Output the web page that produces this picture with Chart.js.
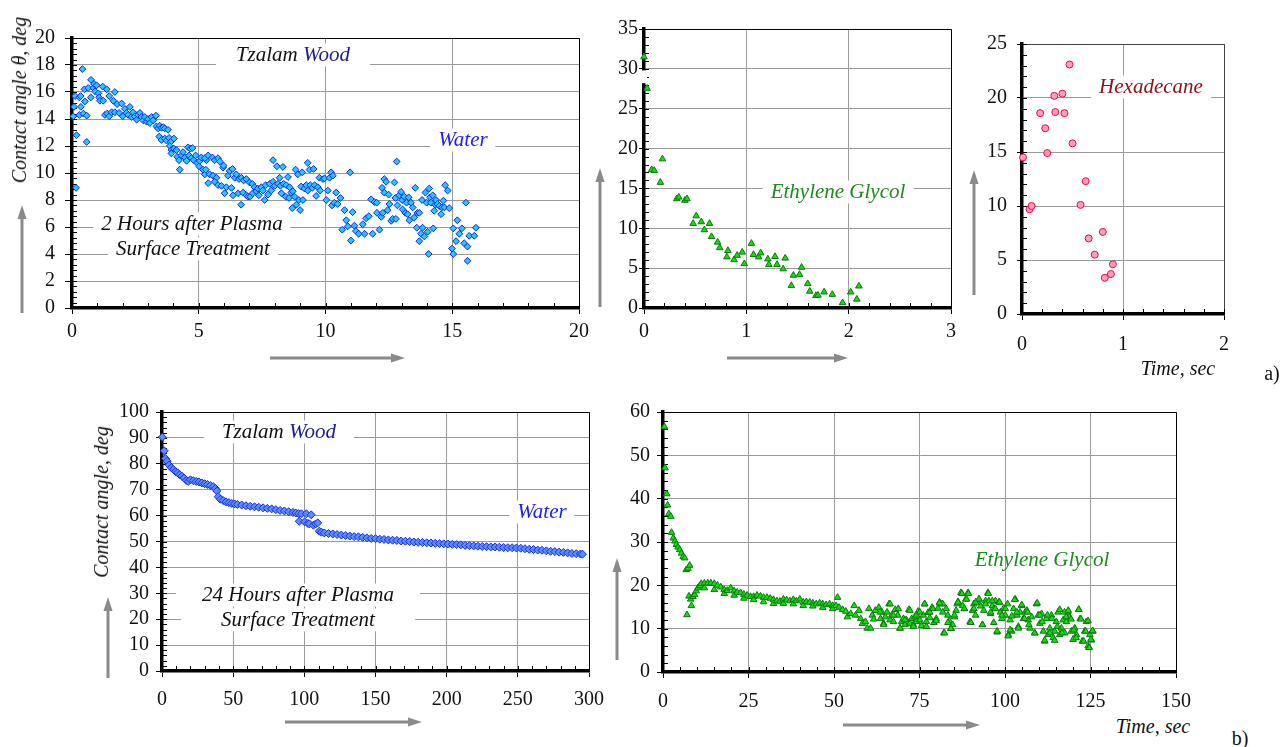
<!DOCTYPE html>
<html>
<head>
<meta charset="utf-8">
<script src="https://cdn.jsdelivr.net/npm/chart.js@4.4.1/dist/chart.umd.min.js"></script>
<style>
  body { margin: 0; width: 1283px; height: 747px; background: #fff; position: relative; overflow: hidden;
         font-family: "Liberation Serif", "Times New Roman", serif; }
  canvas { position: absolute; }
  .lbl { position: absolute; transform: translate(-50%, -50%); white-space: nowrap; font-size: 21px;
         font-style: italic; color: #111; line-height: 1.1; z-index: 2; }
  .box { background: #fff; padding: 0 8px; }
  .rot { transform: translate(-50%, -50%) rotate(-90deg); font-size: 20px; }
  .plain { font-style: normal; font-size: 20px; }
  svg { position: absolute; left: 0; top: 0; z-index: 3; }
</style>
</head>
<body>
<canvas id="chartA"></canvas>
<canvas id="chartB"></canvas>
<canvas id="chartC"></canvas>
<canvas id="chartD"></canvas>
<canvas id="chartE"></canvas>

<div class="lbl rot" style="left:19px; top:100px;">Contact angle θ, deg</div>
<div class="lbl box" style="left:293px; top:55px; padding:0 20px;">Tzalam <span style="color:#1c1c8c">Wood</span></div>
<div class="lbl box" style="left:463px; top:140px; color:#2020f0;">Water</div>
<div class="lbl box" style="left:192px; top:224px;">2 Hours after Plasma</div>
<div class="lbl box" style="left:193px; top:249px;">Surface Treatment</div>

<div class="lbl box" style="left:838px; top:192px; color:#1a8a1a;">Ethylene Glycol</div>

<div class="lbl box" style="left:1151px; top:87px; color:#8b1414;">Hexadecane</div>
<div class="lbl" style="left:1178px; top:368px; font-size:20px;">Time, sec</div>
<div class="lbl plain" style="left:1272px; top:373px;">a)</div>

<div class="lbl rot" style="left:101px; top:502px;">Contact angle, deg</div>
<div class="lbl box" style="left:279px; top:432px; padding:0 18px;">Tzalam <span style="color:#1c1c8c">Wood</span></div>
<div class="lbl box" style="left:542px; top:512px; color:#2020f0;">Water</div>
<div class="lbl box" style="left:298px; top:595px; padding:0 26px;">24 Hours after Plasma</div>
<div class="lbl box" style="left:298px; top:620px; padding:0 40px;">Surface Treatment</div>

<div class="lbl" style="left:1042px; top:560px; color:#1a8a1a;">Ethylene Glycol</div>
<div class="lbl" style="left:1153px; top:726px; font-size:20px;">Time, sec</div>
<div class="lbl plain" style="left:1240px; top:738px;">b)</div>

<svg width="1283" height="747" viewBox="0 0 1283 747">
  <g stroke="#8a8a8a" stroke-width="3">
    <line x1="22" y1="313" x2="22" y2="218"/>
    <line x1="270" y1="358" x2="392" y2="358"/>
    <line x1="600" y1="307" x2="600" y2="181"/>
    <line x1="727" y1="358" x2="835" y2="358"/>
    <line x1="974" y1="295" x2="974" y2="183"/>
    <line x1="108" y1="678" x2="108" y2="610"/>
    <line x1="285" y1="722" x2="409" y2="722"/>
    <line x1="617" y1="660" x2="617" y2="571"/>
    <line x1="843" y1="725" x2="967" y2="725"/>
  </g>
  <g fill="#8a8a8a">
    <polygon points="22,205 17.5,219 26.5,219"/>
    <polygon points="405,358 391,353.5 391,362.5"/>
    <polygon points="600,168 595.5,182 604.5,182"/>
    <polygon points="848,358 834,353.5 834,362.5"/>
    <polygon points="974,170 969.5,184 978.5,184"/>
    <polygon points="108,597 103.5,611 112.5,611"/>
    <polygon points="422,722 408,717.5 408,726.5"/>
    <polygon points="617,558 612.5,572 621.5,572"/>
    <polygon points="980,725 966,720.5 966,729.5"/>
  </g>
</svg>

<script>
// ---- a) 2 hours after treatment, water ----
const water2hTime = [
  0.41, 0.05, 0.08, 0.12, 0.18, 0.16, 0.29, 0.34, 0.29, 0.35,
  0.45, 0.51, 0.49, 0.58, 0.58, 0.64, 0.75, 0.74, 0.84, 0.87,
  0.91, 0.97, 1.04, 1.07, 1.1, 1.21, 1.23, 1.3, 1.37, 1.39,
  1.47, 1.47, 1.56, 1.63, 1.69, 1.69, 1.78, 1.86, 1.96, 2.0,
  2.09, 2.15, 2.22, 2.28, 2.35, 2.41, 2.48, 2.55, 2.61, 2.68,
  2.74, 2.81, 2.87, 2.94, 3.0, 3.07, 3.14, 3.2, 3.31, 3.33,
  3.4, 3.46, 3.53, 3.6, 3.66, 3.79, 3.44, 3.53, 3.66, 3.73,
  3.83, 3.89, 4.02, 3.86, 3.92, 4.02, 4.12, 3.92, 4.15, 4.22,
  4.25, 4.32, 4.38, 4.45, 4.52, 4.58, 4.67, 4.75, 4.62, 4.71,
  4.8, 4.88, 4.93, 5.01, 5.04, 5.1, 5.17, 5.24, 5.3, 5.37,
  5.24, 5.37, 5.54, 5.63, 5.76, 5.83, 5.96, 5.98, 5.28, 5.43,
  5.56, 5.7, 5.63, 5.76, 5.9, 6.02, 6.15, 6.22, 6.33, 6.09,
  6.29, 6.35, 6.42, 6.48, 6.55, 6.59, 6.68, 6.67, 6.75, 6.77,
  6.88, 6.88, 6.94, 7.0, 7.03, 7.11, 7.13, 7.2, 7.27, 7.33,
  7.37, 7.47, 7.53, 7.6, 7.64, 7.73, 7.8, 7.86, 7.93, 7.93,
  8.0, 8.08, 8.12, 8.19, 8.22, 8.26, 8.32, 8.35, 8.43, 8.45,
  8.52, 8.56, 8.58, 8.65, 8.69, 8.71, 8.78, 8.82, 8.85, 8.91,
  8.95, 9.0, 9.04, 9.08, 9.11, 9.17, 9.24, 9.3, 9.3, 9.37,
  9.4, 9.48, 9.53, 9.57, 9.63, 9.7, 9.76, 9.79, 9.9, 9.96,
  10.03, 10.09, 10.16,
  10.22, 10.29, 10.26, 10.35, 10.42, 10.48, 10.59, 10.66, 10.75, 10.82,
  10.88, 10.97, 11.0, 11.07, 11.14, 11.2, 11.31, 11.47, 11.54, 11.6,
  11.71, 11.8, 11.86, 11.93, 12.02, 12.03, 12.13, 12.2, 12.23, 12.26,
  12.32, 12.32, 12.39, 12.45, 12.49, 12.52, 12.59, 12.65, 12.72, 12.76,
  12.78, 12.81, 12.84, 12.91, 12.98, 13.02, 13.04, 13.11, 13.15, 13.2,
  13.24, 13.28, 13.31, 13.37, 13.44, 13.5, 13.54, 13.6, 13.63, 13.7,
  13.7, 13.77, 13.81, 13.83, 13.9, 13.94, 13.99, 14.03, 14.07, 14.09,
  14.12, 14.16, 14.23, 14.25, 14.29, 14.33, 14.36, 14.42, 14.49, 14.56,
  14.59, 14.65, 14.69, 14.72, 14.82, 14.88, 14.99, 15.04, 15.04, 15.15,
  15.2, 15.28, 15.38, 15.47, 15.54, 15.6, 15.6, 15.67, 15.87, 15.93
];
const water2hAngle = [
  17.7, 14.2, 14.9, 15.7, 12.8, 8.9, 15.6, 15.7, 14.3, 14.9,
  14.4, 15.3, 16.2, 14.25, 12.3, 16.3, 16.9, 15.6, 16.3, 16.6,
  16.05, 16.5, 15.9, 15.6, 15.35, 16.4, 15.35, 14.3, 16.2, 14.4,
  14.2, 15.7, 14.5, 15.35, 16.0, 14.5, 15.1, 14.45, 15.15, 14.2,
  14.75, 14.45, 14.3, 14.9, 14.15, 14.5, 14.2, 13.95, 14.3, 14.45,
  14.15, 13.9, 14.15, 13.8, 14.0, 13.7, 14.15, 13.9, 14.25, 13.45,
  13.3, 13.5, 13.35, 13.4, 13.3, 13.2, 12.7, 12.45, 12.55, 12.4,
  12.6, 12.3, 12.55, 12.0, 11.7, 11.8, 11.7, 11.45, 11.2, 10.95,
  10.25, 11.3, 11.55, 11.15, 10.9, 11.9, 11.8, 11.85, 11.3, 11.1,
  10.95, 11.3, 10.75, 10.5, 10.9, 11.15, 10.25, 9.9, 10.95, 9.25,
  11.1, 11.3, 11.15, 10.95, 11.1, 10.85, 10.4, 10.55, 10.25, 9.9,
  9.8, 9.65, 9.35, 9.1, 9.05, 8.5, 9.8, 10.15, 10.3, 8.95,
  8.9, 8.35, 9.65, 9.9, 8.5, 9.55, 9.65, 7.65, 8.55, 9.45,
  9.55, 8.35, 8.25, 9.3, 8.25, 9.2, 8.5, 8.95, 8.65, 8.85,
  8.35, 8.95, 8.7, 8.0, 9.1, 8.4, 9.2, 8.7, 9.35, 10.95,
  9.05, 10.5, 9.2, 9.65, 9.05, 8.5, 10.45, 9.2, 8.25, 9.1,
  9.7, 8.15, 8.95, 8.55, 7.4, 8.65, 8.25, 10.25, 7.65, 9.9,
  8.0, 7.25, 9.0, 10.05, 8.0, 8.85, 9.1, 10.75, 8.7, 10.25,
  9.1, 8.9, 10.3, 9.1, 8.3, 8.95, 9.65, 8.7, 9.55, 9.6,
  8.0, 8.7, 9.65,
  10.05, 9.8, 7.6, 7.8, 8.55, 7.7, 8.15, 5.8, 7.25, 6.5,
  6.05, 10.05, 5.0, 7.1, 6.1, 5.7, 5.5, 6.2, 5.5, 6.65,
  6.8, 8.05, 5.5, 7.85, 7.8, 7.05, 5.8, 6.75, 8.9, 7.05,
  9.55, 8.55, 9.35, 7.25, 8.4, 7.7, 6.45, 6.6, 9.3, 8.15,
  6.6, 10.85, 7.6, 8.35, 8.6, 8.0, 7.3, 8.25, 7.05, 7.8,
  6.95, 8.2, 6.5, 7.8, 7.45, 6.7, 8.9, 5.95, 7.05, 7.05,
  4.95, 5.5, 8.0, 5.95, 5.3, 8.55, 7.8, 5.65, 4.0, 8.85,
  8.2, 7.8, 8.35, 5.9, 7.2, 7.65, 8.0, 7.7, 7.55, 6.95,
  7.45, 7.95, 7.45, 9.1, 8.7, 7.4, 4.4, 5.9, 4.0, 4.95,
  6.5, 5.5, 5.9, 4.8, 7.8, 4.55, 3.5, 5.35, 5.35, 5.95
];
const water2hXTicks = [0, 5, 10, 15, 20];
const water2hYTicks = [0, 2, 4, 6, 8, 10, 12, 14, 16, 18, 20];

// ---- a) ethylene glycol ----
const glycol2hTime = [
  0.0, 0.03, 0.075, 0.1, 0.16, 0.18, 0.32, 0.34, 0.4, 0.42,
  0.48, 0.51, 0.56, 0.59, 0.64, 0.66, 0.72, 0.74, 0.81, 0.82,
  0.88, 0.91, 0.96, 0.98, 1.05, 1.07, 1.12, 1.14, 1.21, 1.22,
  1.28, 1.3, 1.36, 1.38, 1.44, 1.46, 1.52, 1.54, 1.6, 1.62,
  1.68, 1.7, 1.76, 1.84, 1.94, 2.02, 2.08, 2.1
];
const glycol2hAngle = [
  31.5, 27.55, 17.35, 17.25, 15.75, 18.7, 13.7, 13.9, 13.5, 13.7,
  10.6, 11.55, 10.8, 9.8, 10.6, 8.95, 8.25, 7.55, 6.4, 7.2,
  6.05, 6.6, 7.0, 5.55, 8.1, 6.7, 6.4, 6.9, 6.15, 5.45,
  6.45, 5.45, 4.9, 6.25, 2.8, 4.1, 4.2, 5.1, 3.05, 2.1,
  1.55, 1.6, 2.0, 1.7, 0.65, 2.0, 1.1, 2.75
];
const glycol2hXTicks = [0, 1, 2, 3];
const glycol2hYTicks = [0, 5, 10, 15, 20, 25, 30, 35];

// ---- a) hexadecane ----
const hexTime = [0.01, 0.075, 0.095, 0.18, 0.23, 0.25, 0.32, 0.33, 0.4, 0.42,
                 0.47, 0.5, 0.58, 0.63, 0.66, 0.72, 0.8, 0.82, 0.88, 0.9];
const hexAngle = [14.5, 9.7, 10.0, 18.6, 17.2, 14.9, 20.2, 18.7, 20.4, 18.6,
                  23.1, 15.8, 10.1, 12.3, 7.0, 5.5, 7.6, 3.35, 3.7, 4.6];
const hexXTicks = [0, 1, 2];
const hexYTicks = [0, 5, 10, 15, 20, 25];

// ---- b) 24 hours after treatment, water ----
const water24hTime = [
  0.2, 1.6, 2.5, 3.6, 5, 6.5, 8, 9.5, 11, 12.5,
  14, 15.5, 17, 18.5, 20, 22, 24, 26, 28, 30,
  32, 34, 36, 37.5, 38.5, 39.5, 41, 43, 45, 47,
  49, 51, 53, 56, 59, 62, 65, 68, 71, 74,
  77, 80, 83, 86, 89, 92, 94, 96, 96.4, 98,
  100.2, 101.4, 102.5, 103.5, 104.8, 106.4, 108, 109.4, 110.5, 112,
  114, 117, 120, 123, 126, 129, 132, 135, 138, 141,
  144, 147, 150, 153, 156, 159, 162, 165, 168, 171,
  174, 177, 180, 183, 186, 189, 192, 195, 198, 201,
  204, 207, 210, 213, 216, 219, 222, 225, 228, 231,
  234, 237, 240, 243, 246, 249, 252, 255, 258, 261,
  264, 267, 270, 273, 276, 279, 282, 285, 288, 291,
  294, 295.4
];
const water24hAngle = [
  90.3, 85, 82, 81, 79.5, 78.5, 77.8, 77, 76.5, 75.8,
  75.2, 74.5, 73.6, 73.2, 73.8, 73.5, 73.2, 73, 72.6, 72.3,
  72, 71.6, 71.2, 70.5, 69.5, 67.3, 66.3, 65.8, 65.3, 65,
  64.7, 64.5, 64.3, 64.1, 63.8, 63.6, 63.4, 63.2, 63, 62.8,
  62.6, 62.3, 62, 61.8, 61.5, 61.2, 61, 60.8, 57.8, 60.7,
  57.6, 60.7, 57, 56.8, 60.3, 56.3, 56.8, 57.2, 54, 53.6,
  53.3, 53.1, 52.9, 52.7, 52.5, 52.3, 52.1, 51.9, 51.8, 51.6,
  51.4, 51.2, 51.1, 50.9, 50.8, 50.6, 50.5, 50.4, 50.2, 50.1,
  50, 49.8, 49.7, 49.6, 49.5, 49.4, 49.3, 49.2, 49.1, 49,
  48.9, 48.8, 48.7, 48.5, 48.4, 48.3, 48.2, 48.1, 48, 47.9,
  47.9, 47.8, 47.7, 47.6, 47.6, 47.5, 47.4, 47.2, 47, 46.9,
  46.7, 46.6, 46.4, 46.2, 46.1, 45.9, 45.8, 45.6, 45.4, 45.3,
  45.2, 45.1
];
const water24hXTicks = [0, 50, 100, 150, 200, 250, 300];
const water24hYTicks = [0, 10, 20, 30, 40, 50, 60, 70, 80, 90, 100];

// ---- b) ethylene glycol ----
const glycol24hTime = [
  0.4, 0.6, 1.1, 1.35, 1.7, 2.3, 2.5, 3.0, 3.5, 3.9,
  4.4, 4.9, 5.4, 5.9, 6.35, 6.8, 7.0, 7.3, 7.6, 7.8,
  8.1, 8.3, 8.75, 9.2, 9.7, 10.2, 10.7, 11.2, 12.1, 12.1,
  13.1, 14.0, 15.0, 15.0, 15.95, 16.9, 17.9, 17.9, 18.8, 19.8,
  20.8, 20.8, 21.7, 22.7, 23.65, 23.65, 24.6, 25.6, 26.5, 26.5,
  27.5, 28.5, 29.4, 29.4, 30.4, 31.35, 32.3, 32.3, 33.3, 34.2,
  35.2, 35.2, 36.15, 37.1, 38.1, 38.1, 39.0, 40.0, 41.0, 41.0,
  41.9, 42.9, 43.8, 43.8, 44.8, 45.8, 46.7, 46.7, 47.7, 48.7,
  49.6, 49.6, 50.6, 51.05, 51.5, 52.5, 53.45, 53.9, 54.9, 55.9,
  56.3, 57.3, 57.8, 58.3, 59.2, 59.7, 60.2, 60.7, 61.2, 61.6,
  62.1, 63.1, 63.6, 64.0, 64.5, 65.0, 65.5, 66.1, 66.4, 66.9,
  67.4, 67.9, 68.65, 69.3, 69.8, 70.3, 70.75, 71.2, 71.9, 72.2,
  72.7, 73.2, 73.6, 74.1, 74.6, 75.1, 75.6, 76.1, 76.5, 77.0,
  77.5, 78.0, 78.7, 79.2, 79.9, 80.4, 80.85, 81.3, 81.8, 82.1,
  82.8, 83.3, 83.7, 84.2, 84.7, 85.2, 85.7, 86.0, 86.3, 87.1,
  87.6, 88.1, 88.55, 89.2, 89.8, 90.5, 90.9, 91.4, 91.9, 92.4,
  92.9, 93.4, 93.8, 94.3, 95.0, 95.3, 95.8, 96.3, 96.8, 97.2,
  97.7, 98.2, 98.65, 99.1, 99.6, 100.1, 100.75, 101.0, 101.5, 102.0,
  102.5, 103.0, 103.5, 103.9, 104.4, 104.9, 105.4, 105.9, 106.4, 106.8,
  107.3, 107.8, 108.7, 109.2, 109.7, 110.2, 110.7, 111.2, 111.6, 112.1,
  112.6, 113.1, 113.6, 114.1, 114.5, 115.0, 115.5, 116.0, 116.5, 117.0,
  117.5, 117.95, 118.4, 118.9, 119.4, 119.9, 120.4, 120.9, 121.6, 122.0,
  122.6, 123.3, 123.8, 124.3, 124.6, 124.8, 125.3, 125.7,
  63.5, 64.5, 66.4, 67.4, 68.8, 69.3, 70.75, 72.2, 73.2, 74.1,
  75.1, 76.5, 77.0, 78.0, 78.9, 79.9, 80.85, 81.8, 82.3, 83.3,
  84.2, 85.2, 86.2, 87.4, 88.1, 88.75, 89.3, 90.0, 90.9, 91.4,
  92.4, 93.4, 94.3, 95.1, 95.8, 96.25, 96.7, 97.2, 97.7, 98.4,
  99.1, 100.1, 100.9, 101.5, 102.0, 102.8, 103.5, 103.9, 104.9, 105.7,
  106.6, 107.0, 108.7, 109.4, 110.2, 110.85, 111.6, 112.4, 113.1, 113.7,
  114.5, 115.3, 116.0, 116.6, 117.4, 117.9, 118.5, 119.3, 120.1, 120.8,
  121.55, 122.2, 123.0, 123.6, 124.3, 124.6, 125.1, 125.6
];
const glycol24hAngle = [
  56.6, 47.1, 41.1, 38.5, 36.5, 35.9, 32.2, 30.9, 30.2, 29.4,
  28.8, 28.2, 27.4, 26.6, 26.3, 23.6, 13.2, 23.9, 17.5, 24.6,
  16.8, 15.3, 17.4, 17.9, 18.7, 19.4, 19.9, 20.4, 20.5, 19.4,
  20.5, 20.5, 20.4, 19.0, 20.0, 19.6, 19.0, 18.1, 18.8, 19.4,
  18.7, 17.7, 18.4, 18.3, 17.9, 17.0, 17.7, 17.4, 17.4, 16.7,
  17.7, 17.5, 17.2, 16.2, 17.2, 17.0, 16.7, 15.8, 16.4, 16.3,
  16.8, 15.8, 16.6, 16.4, 16.7, 15.7, 16.4, 16.8, 16.1, 15.3,
  16.2, 16.1, 15.9, 15.2, 15.7, 15.9, 15.7, 14.9, 15.5, 15.7,
  15.3, 14.6, 15.3, 17.2, 14.9, 14.4, 14.0, 12.7, 13.45, 15.3,
  13.1, 14.2, 12.3, 11.2, 11.6, 10.1, 14.6, 10.1, 13.1, 12.2,
  14.2, 14.9, 12.3, 13.8, 11.2, 12.7, 13.8, 15.7, 12.0, 13.1,
  11.6, 14.4, 13.1, 10.1, 11.6, 12.3, 10.9, 12.0, 14.4, 11.2,
  12.3, 10.9, 12.7, 11.6, 14.0, 12.0, 10.7, 13.1, 15.7, 11.6,
  13.7, 12.5, 14.9, 11.4, 12.3, 14.7, 16.1, 15.7, 15.7, 9.0,
  14.6, 13.1, 11.8, 10.1, 10.9, 12.7, 14.2, 15.7, 16.2, 18.3,
  15.3, 14.6, 16.8, 18.3, 11.6, 14.2, 15.7, 13.1, 16.1, 16.8,
  15.2, 10.9, 14.2, 16.4, 18.3, 16.4, 13.45, 15.3, 14.6, 16.4,
  9.2, 16.1, 13.8, 12.3, 14.7, 13.1, 15.7, 8.6, 12.0, 9.4,
  14.6, 16.8, 13.1, 10.5, 13.8, 15.3, 12.3, 13.8, 14.2, 12.0,
  10.1, 12.7, 9.0, 15.7, 13.1, 11.2, 13.45, 9.4, 7.1, 12.3,
  8.6, 10.1, 13.1, 7.9, 9.4, 11.6, 13.8, 8.6, 10.1, 12.0,
  9.0, 11.6, 13.8, 12.7, 9.4, 7.5, 10.1, 8.6, 14.4, 12.3,
  7.1, 9.4, 11.6, 6.0, 5.65, 8.6, 7.35, 9.4,
  13.8, 10.9, 15.7, 13.1, 14.6, 10.1, 12.0, 14.2, 10.5, 13.1,
  13.8, 15.7, 10.5, 13.8, 14.6, 11.8, 15.9, 13.8, 9.0, 11.4,
  10.0, 13.1, 16.1, 18.1, 14.6, 16.8, 18.1, 11.4, 14.6, 16.1,
  16.8, 10.9, 15.7, 18.1, 13.8, 16.4, 11.4, 14.6, 9.4, 16.1,
  13.1, 14.6, 8.3, 9.7, 12.9, 16.7, 13.8, 10.1, 15.5, 12.3,
  13.8, 10.9, 9.0, 15.9, 13.1, 11.6, 7.3, 13.1, 9.0, 12.3,
  7.3, 10.5, 14.4, 9.0, 13.8, 12.7, 14.2, 12.2, 9.7, 7.9,
  14.4, 12.2, 7.1, 9.4, 11.8, 5.6, 7.5, 9.5
];
const glycol24hXTicks = [0, 25, 50, 75, 100, 125, 150];
const glycol24hYTicks = [0, 10, 20, 30, 40, 50, 60];

Chart.defaults.font.family = '"Liberation Serif", "Times New Roman", serif';

// thin frame, minor ticks and axis break
const framePlugin = {
  id: "frame",
  beforeDatasetsDraw(chart, args, o) {
    const { ctx, chartArea: a, scales } = chart;
    ctx.save();
    ctx.strokeStyle = o.color || "#000";
    ctx.lineWidth = 1;
    ctx.beginPath();
    ctx.moveTo(a.left, a.top + 0.5);
    ctx.lineTo(a.right + 0.5, a.top + 0.5);
    ctx.lineTo(a.right + 0.5, a.bottom);
    ctx.stroke();
    ctx.strokeStyle = "#000";
    ctx.beginPath();
    const xs = scales.x, ys = scales.y;
    for (let v = xs.min; v <= xs.max + 1e-9; v += o.xMinor) {
      const px = Math.round(xs.getPixelForValue(v)) + 0.5;
      ctx.moveTo(px, a.bottom);
      ctx.lineTo(px, a.bottom - 5);
    }
    for (let v = ys.min; v <= ys.max + 1e-9; v += o.yMinor) {
      const py = Math.round(ys.getPixelForValue(v)) + 0.5;
      ctx.moveTo(a.left, py);
      ctx.lineTo(a.left + 5, py);
    }
    ctx.stroke();
    if (o.gap) {
      const y1 = ys.getPixelForValue(o.gap[1]);
      const y2 = ys.getPixelForValue(o.gap[0]);
      ctx.fillStyle = "#fff";
      ctx.fillRect(a.left - 3, y1, 6, y2 - y1);
    }
    ctx.restore();
  }
};

function makeChart(id, box, set, xTicks, yTicks, style) {
  const c = document.getElementById(id);
  c.width = box.r - box.l + box.padL + box.padR;
  c.height = box.b - box.t + box.padT + box.padB;
  c.style.left = (box.l - box.padL) + "px";
  c.style.top = (box.t - box.padT) + "px";
  const tickFont = { size: 20 };
  return new Chart(c, {
    type: "scatter",
    data: {
      datasets: [{
        data: set.time.map((t, i) => ({ x: t, y: set.angle[i] })),
        pointStyle: style.shape,
        pointRadius: style.radius,
        backgroundColor: style.fill,
        borderColor: style.edge,
        borderWidth: 1,
        clip: false
      }]
    },
    options: {
      responsive: false,
      animation: false,
      layout: { padding: { top: box.padT, right: box.padR, left: 0, bottom: 0 } },
      plugins: {
        legend: { display: false },
        tooltip: { enabled: false },
        frame: { color: style.frame, xMinor: style.xMinor, yMinor: style.yMinor, gap: style.gap }
      },
      scales: {
        x: {
          type: "linear",
          min: xTicks[0],
          max: xTicks[xTicks.length - 1],
          afterBuildTicks: (s) => { s.ticks = xTicks.map((v) => ({ value: v })); },
          afterFit: (s) => { s.height = box.padB; },
          ticks: { font: tickFont, color: "#111", padding: box.xPad, maxRotation: 0, autoSkip: false,
                   callback: (v) => String(v) },
          grid: { color: "#9a9a9a", lineWidth: 1, tickLength: 6, tickColor: "#000" },
          border: { color: "#000", width: 3.5 }
        },
        y: {
          type: "linear",
          min: yTicks[0],
          max: yTicks[yTicks.length - 1],
          afterBuildTicks: (s) => { s.ticks = yTicks.map((v) => ({ value: v })); },
          afterFit: (s) => { s.width = box.padL; },
          ticks: { font: tickFont, color: "#111", padding: box.yPad, autoSkip: false,
                   callback: (v) => String(v) },
          grid: { color: "#9a9a9a", lineWidth: 1, tickLength: box.yTick, tickColor: "#000" },
          border: { color: "#000", width: 3.5 }
        }
      }
    },
    plugins: [framePlugin]
  });
}

const waterStyle = { shape: "rectRot", radius: 3.4, fill: "#2cc4ff", edge: "#0a28f0" };
const glycolStyle = { shape: "triangle", radius: 3.8, fill: "#12dd12", edge: "#0a780a" };

makeChart("chartA",
  { l: 72, t: 26, r: 580, b: 308, padL: 62, padR: 15, padT: 10, padB: 42, xPad: 6, yPad: 10, yTick: 7 },
  { time: water2hTime, angle: water2hAngle }, water2hXTicks, water2hYTicks,
  Object.assign({ frame: "#000", xMinor: 1, yMinor: 0.4 }, waterStyle));

makeChart("chartB",
  { l: 644, t: 26, r: 951, b: 308, padL: 45, padR: 15, padT: 10, padB: 42, xPad: 6, yPad: 1, yTick: 5 },
  { time: glycol2hTime, angle: glycol2hAngle }, glycol2hXTicks, glycol2hYTicks,
  Object.assign({ frame: "#000", xMinor: 0.2, yMinor: 1, gap: [28.2, 29.8] }, glycolStyle));

makeChart("chartC",
  { l: 1022, t: 32, r: 1227, b: 314, padL: 45, padR: 15, padT: 10, padB: 48, xPad: 13, yPad: 10, yTick: 5 },
  { time: hexTime, angle: hexAngle }, hexXTicks, hexYTicks,
  { frame: "#444", xMinor: 0.2, yMinor: 1, shape: "circle", radius: 3.5, fill: "#ff9cc0", edge: "#e8103c" });

makeChart("chartD",
  { l: 162, t: 403, r: 600, b: 671, padL: 60, padR: 15, padT: 10, padB: 42, xPad: 11, yPad: 7, yTick: 6 },
  { time: water24hTime, angle: water24hAngle }, water24hXTicks, water24hYTicks,
  { frame: "#000", xMinor: 10, yMinor: 2, shape: "rectRot", radius: 4, fill: "#5a8cff", edge: "#1a2ee8" });

makeChart("chartE",
  { l: 663, t: 403, r: 1183, b: 672, padL: 50, padR: 20, padT: 10, padB: 42, xPad: 12, yPad: 7, yTick: 6 },
  { time: glycol24hTime, angle: glycol24hAngle }, glycol24hXTicks, glycol24hYTicks,
  Object.assign({ frame: "#000", xMinor: 5, yMinor: 2 }, glycolStyle));
</script>
</body>
</html>
